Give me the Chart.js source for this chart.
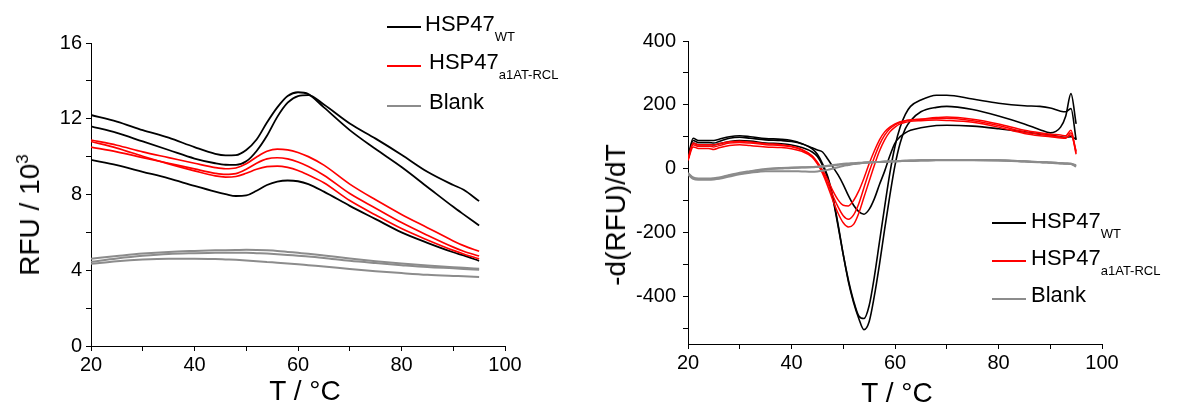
<!DOCTYPE html>
<html>
<head>
<meta charset="utf-8">
<script src="https://cdn.jsdelivr.net/npm/chart.js@4.4.1/dist/chart.umd.min.js"></script>
<style>
  body { margin: 0; background: #fff; font-family: "Liberation Sans", Arial, sans-serif; }
  #wrap { position: relative; width: 1179px; height: 405px; overflow: hidden; background: #fff; }
  canvas { position: absolute; top: 0; }
  .txt { position: absolute; white-space: nowrap; color: #000; line-height: 1; }
  .ytitle { font-size: 28px; transform: translate(-50%, -50%) rotate(-90deg); }
  .xtitle { font-size: 28px; transform: translateX(-50%); }
  .leg { font-size: 22px; }
  .leg span { font-size: 13px; position: relative; top: 10px; }
  .sup { font-size: 17px; position: relative; top: -11px; }
  .key { position: absolute; width: 34px; height: 2px; }
</style>
</head>
<body>
<div id="wrap">
  <canvas id="rawChart" width="590" height="405" style="left:0"></canvas>
  <canvas id="derivChart" width="589" height="405" style="left:590px"></canvas>

  <div class="txt ytitle" style="left:30px; top:215px">RFU / 10<span class="sup">3</span></div>
  <div class="txt xtitle" style="left:305px; top:377px">T / °C</div>
  <div class="txt ytitle" style="left:616px; top:215px">-d(RFU)/dT</div>
  <div class="txt xtitle" style="left:897px; top:379px">T / °C</div>

  <div class="key" style="left:387px; top:26px; background:#000"></div>
  <div class="txt leg" style="left:425px; top:13px">HSP47<span>WT</span></div>
  <div class="key" style="left:387px; top:65px; background:#ff0000"></div>
  <div class="txt leg" style="left:429px; top:51px">HSP47<span>a1AT-RCL</span></div>
  <div class="key" style="left:387px; top:105px; background:#8c8c8c"></div>
  <div class="txt leg" style="left:429px; top:91px">Blank</div>

  <div class="key" style="left:992px; top:222px; background:#000"></div>
  <div class="txt leg" style="left:1031px; top:210px">HSP47<span>WT</span></div>
  <div class="key" style="left:992px; top:260px; background:#ff0000"></div>
  <div class="txt leg" style="left:1031px; top:247px">HSP47<span>a1AT-RCL</span></div>
  <div class="key" style="left:992px; top:298px; background:#8c8c8c"></div>
  <div class="txt leg" style="left:1031px; top:284px">Blank</div>
</div>
<script>
// temperature grid and raw fluorescence (RFU / 10^3), left panel
const tempRaw = [20, 25, 30, 35, 40, 44, 46, 48, 50, 52, 54, 56, 58, 60, 62, 65, 70, 75, 80, 85, 90, 92, 95];
const rawWtA = [12.2, 11.85, 11.4, 11.0, 10.5, 10.15, 10.07, 10.08, 10.35, 10.9, 11.8, 12.6, 13.2, 13.4, 13.3, 12.6, 11.4, 10.4, 9.45, 8.4, 7.35, 6.95, 6.36];
const rawWtB = [11.6, 11.25, 10.8, 10.35, 9.9, 9.65, 9.57, 9.56, 9.75, 10.3, 11.1, 12.1, 12.85, 13.2, 13.25, 12.75, 11.75, 10.95, 10.1, 9.2, 8.5, 8.25, 7.65];
const rawWtC = [9.83, 9.55, 9.2, 8.85, 8.45, 8.15, 8.02, 7.92, 7.95, 8.2, 8.5, 8.68, 8.74, 8.7, 8.55, 8.15, 7.4, 6.7, 6.0, 5.45, 4.95, 4.78, 4.5];
const rawRclA = [10.88, 10.6, 10.25, 9.95, 9.65, 9.42, 9.36, 9.4, 9.62, 9.98, 10.28, 10.4, 10.36, 10.22, 10.0, 9.55, 8.55, 7.72, 6.95, 6.25, 5.55, 5.3, 5.0];
const rawRclB = [10.5, 10.25, 9.95, 9.65, 9.35, 9.12, 9.06, 9.1, 9.33, 9.65, 9.88, 9.94, 9.88, 9.72, 9.48, 9.02, 8.05, 7.28, 6.52, 5.85, 5.22, 5.0, 4.75];
const rawRclC = [10.8, 10.45, 10.02, 9.62, 9.25, 8.98, 8.92, 8.95, 9.12, 9.33, 9.47, 9.5, 9.43, 9.27, 9.03, 8.62, 7.68, 6.92, 6.2, 5.6, 5.05, 4.86, 4.6];
const rawBlankA = [4.61, 4.75, 4.88, 4.97, 5.02, 5.05, 5.06, 5.07, 5.08, 5.07, 5.05, 5.02, 4.97, 4.92, 4.87, 4.78, 4.62, 4.48, 4.36, 4.25, 4.16, 4.13, 4.08];
const rawBlankB = [4.45, 4.62, 4.76, 4.86, 4.9, 4.92, 4.93, 4.93, 4.92, 4.9, 4.88, 4.85, 4.81, 4.77, 4.73, 4.65, 4.5, 4.38, 4.27, 4.17, 4.1, 4.07, 4.02];
const rawBlankC = [4.34, 4.48, 4.57, 4.61, 4.61, 4.59, 4.57, 4.55, 4.52, 4.48, 4.44, 4.4, 4.36, 4.32, 4.27, 4.2, 4.07, 3.95, 3.85, 3.76, 3.7, 3.68, 3.64];

// temperature grid and first derivative -d(RFU)/dT, right panel
const tempDeriv = [20, 21, 22, 24, 25, 26, 28, 30, 32, 35, 38, 40, 42, 44, 45, 46, 47, 48, 49, 50, 51, 52, 53, 54, 55, 56, 57, 58, 59, 60, 61, 62, 63, 65, 68, 70, 75, 80, 85, 88, 90, 92, 93, 94, 95];
const derivWtA = [30, 80, 75, 75, 74, 78, 85, 88, 86, 80, 78, 74, 66, 52, 38, 10, -30, -95, -180, -270, -355, -420, -470, -505, -480, -400, -300, -190, -85, 10, 80, 125, 150, 178, 192, 195, 185, 165, 140, 122, 112, 130, 165, 235, 140];
const derivWtB = [35, 95, 88, 88, 88, 92, 100, 103, 100, 94, 92, 88, 78, 62, 45, 15, -25, -90, -175, -270, -350, -415, -462, -470, -430, -340, -230, -120, -15, 70, 130, 170, 195, 215, 230, 230, 218, 205, 197, 195, 190, 180, 178, 188, 90];
const derivWtC = [30, 88, 82, 82, 80, 85, 95, 98, 95, 90, 88, 85, 78, 65, 58, 52, 30, 5, -20, -50, -85, -115, -135, -143, -128, -95, -50, -8, 40, 80, 100, 112, 120, 128, 135, 136, 133, 125, 115, 108, 105, 100, 98, 100, 92];
const derivRclA = [30, 80, 75, 75, 74, 78, 84, 86, 83, 78, 75, 70, 60, 40, 20, -5, -35, -70, -98, -115, -117, -100, -70, -30, 15, 55, 90, 115, 130, 140, 147, 150, 152, 155, 160, 162, 155, 140, 120, 112, 108, 105, 103, 120, 50];
const derivRclB = [28, 75, 70, 70, 68, 72, 80, 82, 80, 75, 72, 68, 58, 38, 18, -10, -45, -85, -120, -148, -159, -145, -110, -60, -10, 35, 75, 105, 125, 137, 145, 150, 152, 155, 157, 158, 150, 135, 115, 108, 103, 99, 97, 105, 55];
const derivRclC = [25, 68, 63, 63, 60, 65, 72, 75, 72, 68, 66, 62, 54, 36, 15, -15, -55, -100, -140, -170, -183, -175, -140, -90, -40, 10, 55, 90, 115, 130, 140, 145, 148, 150, 152, 151, 145, 130, 110, 103, 100, 96, 95, 112, 45];
const derivBlankA = [-15, -30, -33, -33, -32, -30, -22, -15, -10, -3, 0, 2, 3, 4, 5, 6, 8, 10, 12, 13, 14, 16, 17, 18, 19, 20, 21, 21, 22, 22, 23, 24, 24, 25, 26, 26, 26, 25, 22, 20, 18, 16, 15, 14, 8];
const derivBlankB = [-18, -32, -35, -35, -34, -32, -25, -18, -13, -8, -8, -8, -9, -10, -9, -7, -4, 0, 4, 8, 11, 14, 16, 18, 19, 20, 21, 22, 22, 23, 24, 25, 25, 26, 27, 27, 27, 26, 23, 21, 19, 17, 16, 15, 10];
const derivBlankC = [-14, -28, -31, -31, -30, -28, -20, -13, -8, -1, 2, 3, 4, 5, 6, 7, 9, 11, 13, 15, 16, 17, 18, 19, 20, 21, 21, 22, 23, 23, 24, 24, 25, 26, 27, 27, 27, 26, 23, 21, 19, 17, 16, 15, 6];

// tick labels
const tempTicks = [20, 40, 60, 80, 100];
const rawTicks = [0, 4, 8, 12, 16];
const derivTicks = [-400, -200, 0, 200, 400];

const BLACK = '#000000', RED = '#ff0000', GRAY = '#8c8c8c';
const tickFont = { family: '"Liberation Sans", Arial, sans-serif', size: 20 };

function series(temps, values, color, width) {
  return {
    data: temps.map((t, i) => ({ x: t, y: values[i] })),
    borderColor: color,
    borderWidth: width,
    pointRadius: 0,
    fill: false,
    cubicInterpolationMode: 'monotone'
  };
}

function axis(min, max, step, labels, pad, fitSize, horizontal) {
  return {
    type: 'linear',
    min: min,
    max: max,
    grid: { display: true, drawOnChartArea: false, drawTicks: true, tickLength: 5, color: BLACK, tickColor: BLACK },
    border: { display: true, color: BLACK, width: 1 },
    ticks: {
      stepSize: step,
      includeBounds: false,
      autoSkip: false,
      maxRotation: 0,
      color: BLACK,
      font: tickFont,
      padding: pad,
      callback: v => labels.includes(v) ? String(v) : ''
    },
    afterFit: s => { if (horizontal) s.height = fitSize; else s.width = fitSize; }
  };
}

function options(xAxis, yAxis, padding) {
  return {
    responsive: false,
    devicePixelRatio: 1,
    animation: false,
    layout: { padding: padding },
    plugins: { legend: { display: false }, tooltip: { enabled: false } },
    scales: { x: xAxis, y: yAxis }
  };
}

new Chart(document.getElementById('rawChart').getContext('2d'), {
  type: 'line',
  data: {
    datasets: [
      series(tempRaw, rawBlankA, GRAY, 2),
      series(tempRaw, rawBlankB, GRAY, 2),
      series(tempRaw, rawBlankC, GRAY, 2),
      series(tempRaw, rawRclA, RED, 1.7),
      series(tempRaw, rawRclB, RED, 1.7),
      series(tempRaw, rawRclC, RED, 1.7),
      series(tempRaw, rawWtA, BLACK, 1.8),
      series(tempRaw, rawWtB, BLACK, 1.8),
      series(tempRaw, rawWtC, BLACK, 1.8)
    ]
  },
  options: options(
    axis(20, 100, 10, tempTicks, 2, 59, true),
    axis(0, 16, 2, rawTicks, 4, 91, false),
    { left: 0, top: 43, right: 85, bottom: 0 }
  )
});

new Chart(document.getElementById('derivChart').getContext('2d'), {
  type: 'line',
  data: {
    datasets: [
      series(tempDeriv, derivBlankA, GRAY, 2),
      series(tempDeriv, derivBlankB, GRAY, 2),
      series(tempDeriv, derivBlankC, GRAY, 2),
      series(tempDeriv, derivRclA, RED, 1.5),
      series(tempDeriv, derivRclB, RED, 1.5),
      series(tempDeriv, derivRclC, RED, 1.5),
      series(tempDeriv, derivWtA, BLACK, 1.6),
      series(tempDeriv, derivWtB, BLACK, 1.6),
      series(tempDeriv, derivWtC, BLACK, 1.6)
    ]
  },
  options: options(
    axis(20, 100, 10, tempTicks, 2, 61, true),
    axis(-550, 400, 100, derivTicks, 7, 98, false),
    { left: 0, top: 41, right: 77, bottom: 0 }
  )
});
</script>
</body>
</html>
